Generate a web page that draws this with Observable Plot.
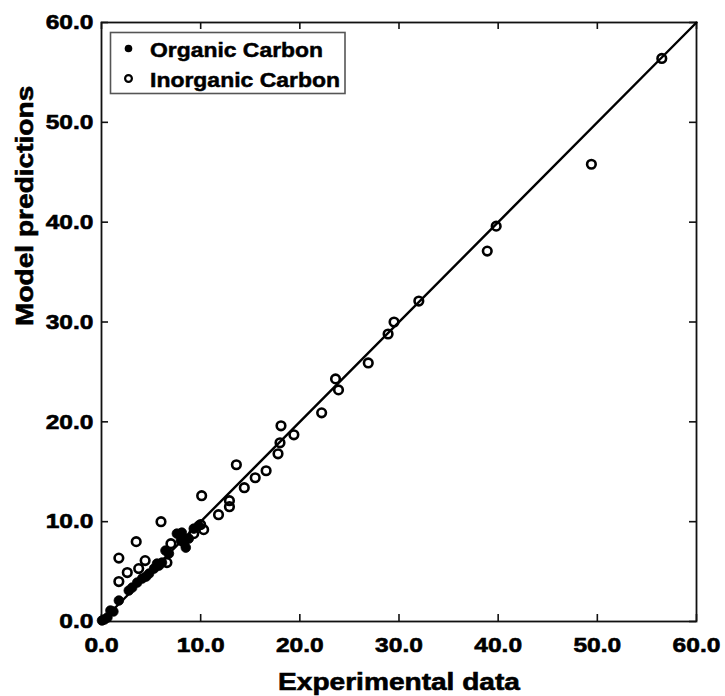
<!DOCTYPE html>
<html><head><meta charset="utf-8">
<script src="https://cdn.jsdelivr.net/npm/d3@7"></script>
<script src="https://cdn.jsdelivr.net/npm/@observablehq/plot@0.6"></script>
<style>body{margin:0;background:#fff}</style>
</head><body><div id="chart"></div>
<script>
// Organic Carbon (filled)
const organicX = [0.05,0.3,0.6,0.9,1.2,1.75,2.75,3.1,3.6,4.1,4.5,4.8,5.3,5.6,5.8,6.1,6.45,6.8,7.6,8.0,8.1,8.3,8.5,8.8,9.3,9.8];
const organicY = [0.1,0.2,0.4,1.1,1.0,2.1,3.1,3.4,3.9,4.3,4.5,4.8,5.3,5.8,5.6,5.9,7.1,6.8,8.8,8.1,8.9,7.9,7.4,8.3,9.3,9.6];
// Inorganic Carbon (open)
const inorganicX = [56.5,49.4,39.8,38.9,32.0,29.5,28.9,26.9,23.6,23.9,22.2,18.1,19.4,18.0,17.8,13.6,16.6,15.5,14.4,12.9,12.9,11.8,10.1,6.0,10.3,9.3,3.5,1.75,4.4,7.0,2.6,3.75,1.75,6.6,10.0];
const inorganicY = [56.4,45.8,39.6,37.1,32.1,30.0,28.8,25.9,24.3,23.2,20.9,19.6,18.7,17.9,16.8,15.7,15.1,14.4,13.4,12.1,11.5,10.7,12.6,10.0,9.2,8.8,8.0,6.35,6.1,7.8,4.9,5.3,4.0,5.9,9.7];
const tickValues = [0,10,20,30,40,50,60];
const identityLine = [0,60];
const seriesNames = ["Organic Carbon","Inorganic Carbon"];
const xTitle = "Experimental data";
const yTitle = "Model predictions";

const organic = organicX.map((x,i)=>({x, y: organicY[i]}));
const inorganic = inorganicX.map((x,i)=>({x, y: inorganicY[i]}));

const FH = 696 - 22 - 75, FW = 725 - 101 - 29, TL = 7;
const font = "'Liberation Sans', Arial, sans-serif";

const chart = Plot.plot({
  width: 725, height: 696,
  marginLeft: 101, marginRight: 29, marginTop: 22, marginBottom: 75,
  style: {fontFamily: font, fontWeight: "bold", color: "#000", background: "#fff"},
  x: {domain: [0,60], ticks: tickValues},
  y: {domain: [0,60], ticks: tickValues},
  marks: [
    Plot.ruleX(tickValues, {x: d=>d, insetTop: FH - TL, stroke: "#111", strokeWidth: 1.6}),
    Plot.ruleX(tickValues, {x: d=>d, insetBottom: FH - TL, stroke: "#111", strokeWidth: 1.6}),
    Plot.ruleY(tickValues, {y: d=>d, insetRight: FW - TL, stroke: "#111", strokeWidth: 1.6}),
    Plot.ruleY(tickValues, {y: d=>d, insetLeft: FW - TL, stroke: "#111", strokeWidth: 1.6}),
    Plot.frame({stroke: "#111", strokeWidth: 1.8}),
    Plot.axisX(tickValues, {tickSize: 0, tickPadding: 16, tickFormat: d=>d.toFixed(1), fontSize: 21, fontWeight: "bold", label: null}),
    Plot.axisY(tickValues, {tickSize: 0, tickPadding: 8, tickFormat: d=>d.toFixed(1), fontSize: 21, fontWeight: "bold", label: null}),
    Plot.text([xTitle], {frameAnchor: "bottom", dy: 60.5, lineAnchor: "middle", fontSize: 24, fontWeight: "bold", fill: "#000"}),
    Plot.text([yTitle], {frameAnchor: "left", dx: -76, dy: 4, rotate: -90, lineAnchor: "middle", fontSize: 24, fontWeight: "bold", fill: "#000"}),
    Plot.line(identityLine, {x: d=>d, y: d=>d, stroke: "#000", strokeWidth: 2.4}),
    Plot.dot(organic, {x: "x", y: "y", r: 4.8, fill: "#000", stroke: "#000", strokeWidth: 0.8}),
    Plot.dot(inorganic, {x: "x", y: "y", r: 4.3, fill: "none", stroke: "#000", strokeWidth: 2.6})
  ]
});
document.getElementById("chart").appendChild(chart);

// stretch text horizontally and thicken to match the reference's heavy wide glyphs
d3.select(chart).selectAll("text").each(function(){
  const len = this.getComputedTextLength();
  if (len > 0) {
    this.setAttribute("textLength", (len * 1.17).toFixed(1));
    this.setAttribute("lengthAdjust", "spacingAndGlyphs");
    this.setAttribute("stroke", "#000");
    this.setAttribute("stroke-width", "0.6");
  }
});

// legend
const svg = d3.select(chart);
const lg = svg.append("g").attr("text-anchor", "start");
lg.append("rect").attr("x", 110.5).attr("y", 32.5).attr("width", 234.5).attr("height", 61)
  .attr("fill", "#fff").attr("stroke", "#555").attr("stroke-width", 1.6);
lg.append("circle").attr("cx", 128.5).attr("cy", 48.5).attr("r", 3.8).attr("fill", "#000");
lg.append("circle").attr("cx", 128.5).attr("cy", 78.5).attr("r", 3.4).attr("fill", "none").attr("stroke", "#000").attr("stroke-width", 2.2);
const widths = [173, 190];
seriesNames.forEach((name, i) => {
  lg.append("text").attr("x", 150).attr("y", 57 + i*29.5)
    .attr("text-anchor", "start")
    .attr("font-family", font).attr("font-weight", "bold").attr("font-size", 21)
    .attr("fill", "#000").attr("stroke", "#000").attr("stroke-width", 0.5)
    .attr("textLength", widths[i]).attr("lengthAdjust", "spacingAndGlyphs")
    .text(name);
});
</script></body></html>
